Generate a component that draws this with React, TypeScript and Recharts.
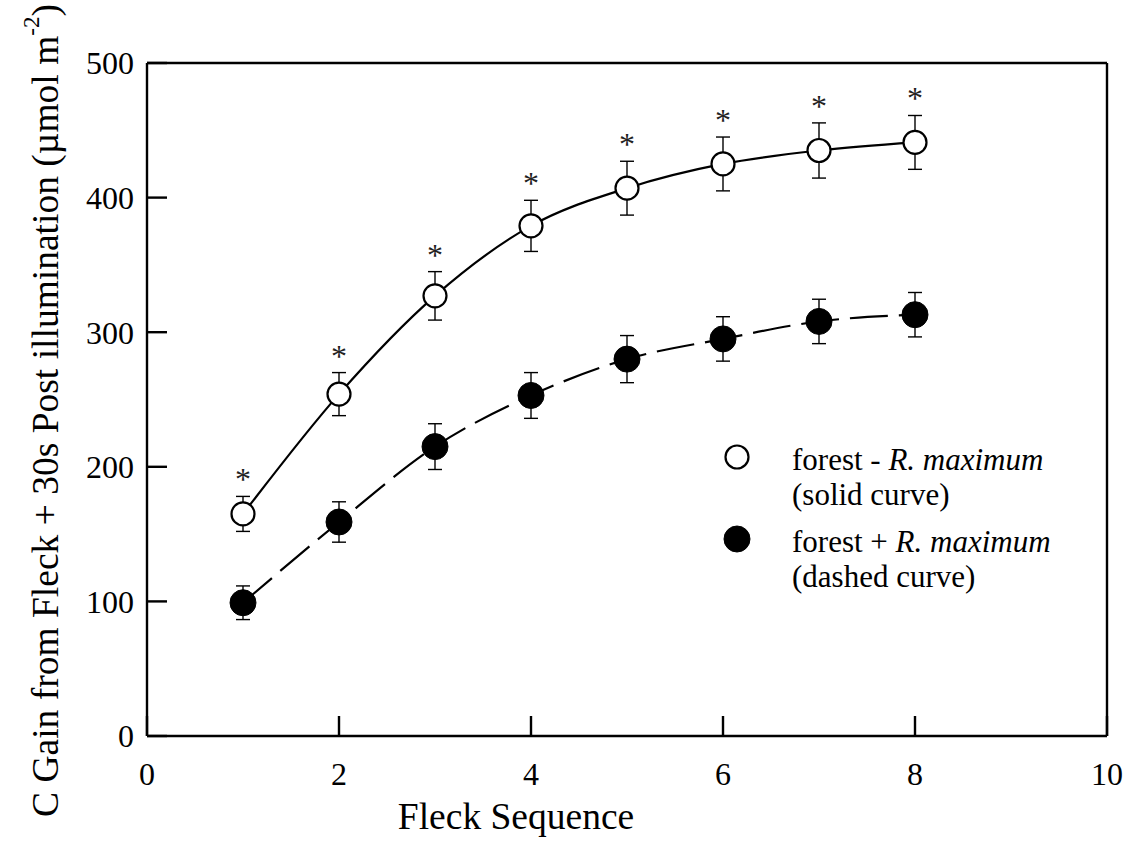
import React from 'react'
import { ComposedChart, Line, Scatter, XAxis, YAxis, ErrorBar, Legend } from 'recharts'

const fleck = [1, 2, 3, 4, 5, 6, 7, 8]
const forestMinus = [165, 254, 327, 379, 407, 425, 435, 441]
const forestMinusSe = [13, 16, 18, 19, 20, 20, 20.5, 20]
const forestPlus = [99, 159, 215, 253, 280, 295, 308, 313]
const forestPlusSe = [12.5, 15, 17, 17, 17.5, 16.5, 16.5, 16.5]
const significant = [true, true, true, true, true, true, true, true]

const xTicks = [0, 2, 4, 6, 8, 10]
const yTicks = [0, 100, 200, 300, 400, 500]

const legendItems = [
  { label: 'forest - ', species: 'R. maximum', note: '(solid curve)', filled: false },
  { label: 'forest + ', species: 'R. maximum', note: '(dashed curve)', filled: true },
]

const FONT = '"Liberation Serif", "Times New Roman", serif'

const data = fleck.map((x, i) => ({
  x,
  minus: forestMinus[i],
  minusSe: forestMinusSe[i],
  plus: forestPlus[i],
  plusSe: forestPlusSe[i],
  star: significant[i] ? forestMinus[i] + forestMinusSe[i] : null,
}))

const OpenDot = (props: any) => {
  const { cx, cy, index } = props
  if (cx == null || cy == null) return null
  return <circle key={`o-${index}`} cx={cx} cy={cy} r={11.5} fill="#fff" stroke="#000" strokeWidth={2.2} />
}

const FilledDot = (props: any) => {
  const { cx, cy, index } = props
  if (cx == null || cy == null) return null
  return <circle key={`f-${index}`} cx={cx} cy={cy} r={13} fill="#000" stroke="#000" strokeWidth={1} />
}

const Star = (props: any) => {
  const { cx, cy } = props
  return (
    <text x={cx} y={cy - 6} textAnchor="middle" fontSize={32} fontFamily={FONT} fill="#222">
      *
    </text>
  )
}

const YTitle = (props: any) => {
  const { viewBox } = props
  const cx = viewBox.x - 42
  const cy = viewBox.y + viewBox.height / 2 + 11
  return (
    <text
      x={cx}
      y={cy}
      transform={`rotate(-90, ${cx}, ${cy})`}
      textAnchor="middle"
      dominantBaseline="central"
      fontSize={37.5}
      fontFamily={FONT}
      fill="#000"
    >
      C Gain from Fleck + 30s Post illumination (µmol m
      <tspan dy={-14} fontSize={23}>-2</tspan>
      <tspan dy={14}>)</tspan>
    </text>
  )
}

const XTitle = (props: any) => {
  const { viewBox } = props
  return (
    <text
      x={viewBox.x + viewBox.width / 2 - 111}
      y={viewBox.y + 93}
      textAnchor="middle"
      fontSize={37.5}
      fontFamily={FONT}
      fill="#000"
    >
      Fleck Sequence
    </text>
  )
}

// legend drawn inside the plot, like the original figure
const LegendBox = () => (
  <div style={{ fontFamily: FONT, fontSize: 31, color: '#000', lineHeight: '35px' }}>
    {legendItems.map((item, idx) => (
      <div key={idx} style={{ display: 'flex', marginBottom: idx === 0 ? 12 : 0 }}>
        <svg width={70} height={34} style={{ flexShrink: 0 }}>
          <circle
            cx={15}
            cy={15}
            r={item.filled ? 13 : 11.5}
            fill={item.filled ? '#000' : '#fff'}
            stroke="#000"
            strokeWidth={item.filled ? 1 : 2.2}
          />
        </svg>
        <div>
          <div style={{ whiteSpace: 'nowrap' }}>
            {item.label}
            <i>{item.species}</i>
          </div>
          <div style={{ whiteSpace: 'nowrap' }}>{item.note}</div>
        </div>
      </div>
    ))}
  </div>
)

const tickStyle = { fontSize: 32, fontFamily: FONT, fill: '#000' }
const axisLine = { stroke: '#000', strokeWidth: 2.4 }

export default function App() {
  return (
    <div style={{ position: 'absolute', left: 0, top: 0, width: 1136, height: 855, background: '#fff' }}>
      <ComposedChart width={1136} height={855} data={data} margin={{ top: 62, right: 28, bottom: 59, left: 87 }}>
        <XAxis
          xAxisId="bottom"
          dataKey="x"
          type="number"
          domain={[0, 10]}
          ticks={xTicks}
          height={60}
          tickSize={-20}
          tickMargin={46}
          tick={tickStyle}
          axisLine={axisLine}
          tickLine={axisLine}
          label={<XTitle />}
        />
        <XAxis
          xAxisId="top"
          orientation="top"
          type="number"
          domain={[0, 10]}
          ticks={xTicks}
          height={1}
          tickSize={-20}
          tick={false}
          axisLine={axisLine}
          tickLine={axisLine}
        />
        <YAxis
          yAxisId="left"
          type="number"
          domain={[0, 500]}
          ticks={yTicks}
          width={60}
          tickSize={-20}
          tickMargin={33}
          tick={tickStyle}
          axisLine={axisLine}
          tickLine={axisLine}
          label={<YTitle />}
        />
        <YAxis
          yAxisId="right"
          orientation="right"
          type="number"
          domain={[0, 500]}
          ticks={yTicks}
          width={1}
          tickSize={-20}
          tick={false}
          axisLine={axisLine}
          tickLine={axisLine}
        />
        <Line
          xAxisId="bottom"
          yAxisId="left"
          type="monotone"
          dataKey="plus"
          stroke="#000"
          strokeWidth={2.2}
          strokeDasharray="38 11"
          dot={<FilledDot />}
          activeDot={false}
          isAnimationActive={false}
        >
          <ErrorBar dataKey="plusSe" direction="y" width={7} stroke="#000" strokeWidth={1.4} />
        </Line>
        <Line
          xAxisId="bottom"
          yAxisId="left"
          type="monotone"
          dataKey="minus"
          stroke="#000"
          strokeWidth={2.2}
          dot={<OpenDot />}
          activeDot={false}
          isAnimationActive={false}
        >
          <ErrorBar dataKey="minusSe" direction="y" width={7} stroke="#000" strokeWidth={1.4} />
        </Line>
        <Scatter
          xAxisId="bottom"
          yAxisId="left"
          dataKey="star"
          shape={<Star />}
          isAnimationActive={false}
        />
        <Legend
          layout="horizontal"
          verticalAlign="middle"
          align="center"
          content={<LegendBox />}
          wrapperStyle={{ left: 722, top: 442, width: 'auto' }}
        />
      </ComposedChart>
    </div>
  )
}
